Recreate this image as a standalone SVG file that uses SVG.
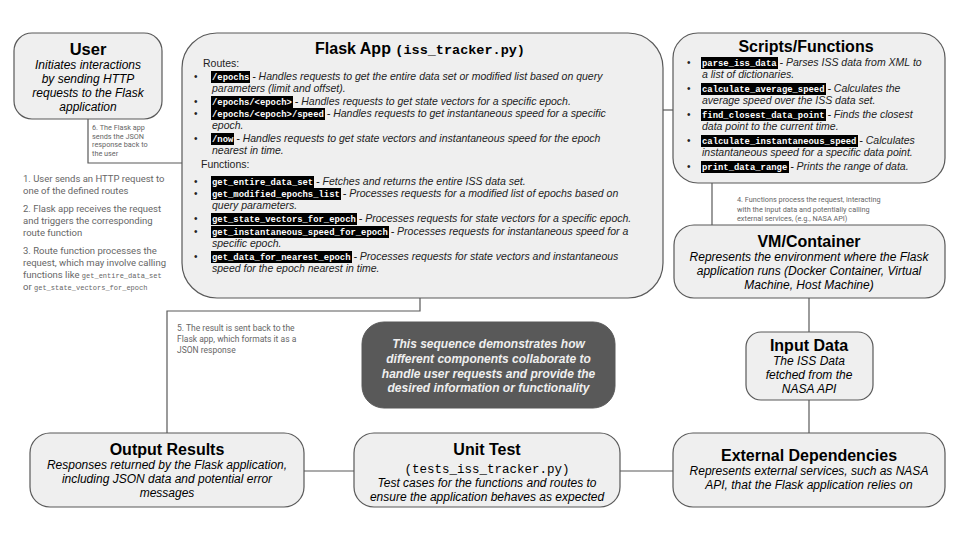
<svg xmlns="http://www.w3.org/2000/svg" width="960" height="540" viewBox="0 0 960 540">
<style>
.box{fill:#efefef;stroke:#595959;stroke-width:1.2}
.dark{fill:#595959;stroke:#595959}
.conn{fill:none;stroke:#595959;stroke-width:1.2}
.title{font-family:"Liberation Sans",Arial,sans-serif;font-weight:bold;font-size:16px;fill:#000;text-anchor:middle}
.body{font-family:"Liberation Sans",Arial,sans-serif;font-style:italic;font-size:12px;fill:#000;text-anchor:middle}
.desc{font-family:"Liberation Sans",Arial,sans-serif;font-style:italic;font-size:10.5px;fill:#222}
.plain{font-family:"Liberation Sans",Arial,sans-serif;font-size:10.5px;fill:#222}
.code{font-family:"Liberation Mono","DejaVu Sans Mono",monospace;font-size:8.9px;fill:#fff;font-style:normal;font-weight:bold}
.hl{fill:#000}
.bul{font-family:"Liberation Sans",Arial,sans-serif;font-size:10px;fill:#222}
.note{font-family:Roboto,"Liberation Sans",sans-serif;fill:#666}
.notecode{font-family:"Liberation Mono",monospace;fill:#666}
</style>

<g id="connectors">
<path class="conn" d="M88,119 V163 H182"/>
<path class="conn" d="M663,110 H673"/>
<path class="conn" d="M712,183 V225"/>
<path class="conn" d="M809,298 V332"/>
<path class="conn" d="M809,400 V433"/>
<path class="conn" d="M420,298 V311 H167 V433"/>
<path class="conn" d="M304,471 H354"/>
<path class="conn" d="M620,471 H673"/>
</g>

<g id="user">
<rect class="box" x="14" y="33" width="148" height="86" rx="18"/>
<text class="title" x="88" y="55" style="font-size:16.5px">User</text>
<text class="body"><tspan x="88" y="69">Initiates interactions</tspan><tspan x="88" y="83">by sending HTTP</tspan><tspan x="88" y="97">requests to the Flask</tspan><tspan x="88" y="111">application</tspan></text>
</g>

<g id="flask-app">
<rect class="box" x="182" y="33" width="481" height="265" rx="35"/>
<text class="title" x="420" y="54"><tspan>Flask App </tspan><tspan style="font-family:'Liberation Mono','DejaVu Sans Mono',monospace;font-size:13.5px">(iss_tracker.py)</tspan></text>
<text class="plain" x="203" y="67">Routes:</text>
<g class="bullets">
<text class="bul" x="194" y="80">•</text>
<text class="bul" x="194" y="105">•</text>
<text class="bul" x="194" y="117">•</text>
<text class="bul" x="194" y="142">•</text>
<text class="bul" x="194" y="185">•</text>
<text class="bul" x="194" y="197">•</text>
<text class="bul" x="194" y="222">•</text>
<text class="bul" x="194" y="235">•</text>
<text class="bul" x="194" y="260">•</text>
</g>
<rect class="hl" x="211" y="71" width="39" height="12"/>
<rect class="hl" x="211" y="96" width="82" height="12"/>
<rect class="hl" x="211" y="108" width="114" height="12"/>
<rect class="hl" x="211" y="133" width="23" height="12"/>
<rect class="hl" x="211" y="176" width="103" height="12"/>
<rect class="hl" x="211" y="188" width="130" height="12"/>
<rect class="hl" x="211" y="213" width="146" height="12"/>
<rect class="hl" x="211" y="226" width="178" height="12"/>
<rect class="hl" x="211" y="251" width="141" height="12"/>
<text class="desc" x="212" y="80"><tspan class="code">/epochs</tspan> - Handles requests to get the entire data set or modified list based on query</text>
<text class="desc" x="212" y="92">parameters (limit and offset).</text>
<text class="desc" x="212" y="105"><tspan class="code">/epochs/&lt;epoch&gt;</tspan> - Handles requests to get state vectors for a specific epoch.</text>
<text class="desc" x="212" y="117"><tspan class="code">/epochs/&lt;epoch&gt;/speed</tspan> - Handles requests to get instantaneous speed for a specific</text>
<text class="desc" x="212" y="129">epoch.</text>
<text class="desc" x="212" y="142"><tspan class="code">/now</tspan> - Handles requests to get state vectors and instantaneous speed for the epoch</text>
<text class="desc" x="212" y="154">nearest in time.</text>
<text class="plain" x="201" y="168">Functions:</text>
<text class="desc" x="212" y="185"><tspan class="code">get_entire_data_set</tspan> - Fetches and returns the entire ISS data set.</text>
<text class="desc" x="212" y="197"><tspan class="code">get_modified_epochs_list</tspan> - Processes requests for a modified list of epochs based on</text>
<text class="desc" x="212" y="209">query parameters.</text>
<text class="desc" x="212" y="222"><tspan class="code">get_state_vectors_for_epoch</tspan> - Processes requests for state vectors for a specific epoch.</text>
<text class="desc" x="212" y="235"><tspan class="code">get_instantaneous_speed_for_epoch</tspan> - Processes requests for instantaneous speed for a</text>
<text class="desc" x="212" y="247">specific epoch.</text>
<text class="desc" x="212" y="260"><tspan class="code">get_data_for_nearest_epoch</tspan> - Processes requests for state vectors and instantaneous</text>
<text class="desc" x="212" y="272">speed for the epoch nearest in time.</text>
</g>

<g id="scripts-functions">
<rect class="box" x="673" y="33" width="272" height="150" rx="25"/>
<text class="title" x="806" y="52">Scripts/Functions</text>
<text class="bul" x="687" y="66">•</text>
<text class="bul" x="687" y="92">•</text>
<text class="bul" x="687" y="118">•</text>
<text class="bul" x="687" y="144">•</text>
<text class="bul" x="687" y="170">•</text>
<rect class="hl" x="701" y="57" width="77" height="12"/>
<rect class="hl" x="701" y="83" width="125" height="12"/>
<rect class="hl" x="701" y="109" width="125" height="12"/>
<rect class="hl" x="701" y="135" width="157" height="12"/>
<rect class="hl" x="701" y="161" width="88" height="12"/>
<text class="desc" x="702" y="66"><tspan class="code">parse_iss_data</tspan> - Parses ISS data from XML to</text>
<text class="desc" x="702" y="78">a list of dictionaries.</text>
<text class="desc" x="702" y="92"><tspan class="code">calculate_average_speed</tspan> - Calculates the</text>
<text class="desc" x="702" y="104">average speed over the ISS data set.</text>
<text class="desc" x="702" y="118"><tspan class="code">find_closest_data_point</tspan> - Finds the closest</text>
<text class="desc" x="702" y="130">data point to the current time.</text>
<text class="desc" x="702" y="144"><tspan class="code">calculate_instantaneous_speed</tspan> - Calculates</text>
<text class="desc" x="702" y="156">instantaneous speed for a specific data point.</text>
<text class="desc" x="702" y="170"><tspan class="code">print_data_range</tspan> - Prints the range of data.</text>
</g>

<g id="vm-container">
<rect class="box" x="674" y="225" width="271" height="73" rx="20"/>
<text class="title" x="809" y="247">VM/Container</text>
<text class="body"><tspan x="809" y="261">Represents the environment where the Flask</tspan><tspan x="809" y="275">application runs (Docker Container, Virtual</tspan><tspan x="809" y="289">Machine, Host Machine)</tspan></text>
</g>

<g id="input-data">
<rect class="box" x="746" y="332" width="127" height="68" rx="15"/>
<text class="title" x="809" y="351">Input Data</text>
<text class="body"><tspan x="809" y="365">The ISS Data</tspan><tspan x="809" y="379">fetched from the</tspan><tspan x="809" y="393">NASA API</tspan></text>
</g>

<g id="external-dependencies">
<rect class="box" x="673" y="433" width="272" height="74" rx="20"/>
<text class="title" x="809" y="461">External Dependencies</text>
<text class="body"><tspan x="809" y="475">Represents external services, such as NASA</tspan><tspan x="809" y="489">API, that the Flask application relies on</tspan></text>
</g>

<g id="unit-test">
<rect class="box" x="354" y="433" width="266" height="74" rx="20"/>
<text class="title" x="487" y="455">Unit Test</text>
<text class="title" x="487" y="473" style="font-family:'Liberation Mono','DejaVu Sans Mono',monospace;font-weight:normal;font-size:12.5px">(tests_iss_tracker.py)</text>
<text class="body"><tspan x="487" y="487">Test cases for the functions and routes to</tspan><tspan x="487" y="501">ensure the application behaves as expected</tspan></text>
</g>

<g id="output-results">
<rect class="box" x="30" y="433" width="274" height="74" rx="20"/>
<text class="title" x="167" y="455">Output Results</text>
<text class="body"><tspan x="167" y="469">Responses returned by the Flask application,</tspan><tspan x="167" y="483">including JSON data and potential error</tspan><tspan x="167" y="497">messages</tspan></text>
</g>

<g id="summary">
<rect class="dark" x="362" y="322" width="253" height="86" rx="22"/>
<text style="font-family:'Liberation Sans',Arial,sans-serif;font-weight:bold;font-style:italic;font-size:12px;fill:#efefef;text-anchor:middle"><tspan x="488.5" y="348">This sequence demonstrates how</tspan><tspan x="488.5" y="363">different components collaborate to</tspan><tspan x="488.5" y="378">handle user requests and provide the</tspan><tspan x="488.5" y="392">desired information or functionality</tspan></text>
</g>

<g id="annotations">
<text class="note" style="font-size:7.3px"><tspan x="92" y="130">6. The Flask app</tspan><tspan x="92" y="138.5">sends the JSON</tspan><tspan x="92" y="147">response back to</tspan><tspan x="92" y="155.5">the user</tspan></text>
<text class="note" style="font-size:9.5px"><tspan x="23" y="182">1. User sends an HTTP request to</tspan><tspan x="23" y="194">one of the defined routes</tspan></text>
<text class="note" style="font-size:9.5px"><tspan x="23" y="212">2. Flask app receives the request</tspan><tspan x="23" y="224">and triggers the corresponding</tspan><tspan x="23" y="236">route function</tspan></text>
<text class="note" style="font-size:9.5px"><tspan x="23" y="254">3. Route function processes the</tspan><tspan x="23" y="266">request, which may involve calling</tspan><tspan x="23" y="278">functions like <tspan class="notecode" style="font-size:7px">get_entire_data_set</tspan></tspan><tspan x="23" y="290">or <tspan class="notecode" style="font-size:7px">get_state_vectors_for_epoch</tspan></tspan></text>
<text class="note" style="font-size:7.3px"><tspan x="737" y="202">4. Functions process the request, interacting</tspan><tspan x="737" y="211.5">with the input data and potentially calling</tspan><tspan x="737" y="221">external services, (e.g., NASA API)</tspan></text>
<text class="note" style="font-size:8.5px"><tspan x="177" y="331">5. The result is sent back to the</tspan><tspan x="177" y="342">Flask app, which formats it as a</tspan><tspan x="177" y="353">JSON response</tspan></text>
</g>
</svg>
